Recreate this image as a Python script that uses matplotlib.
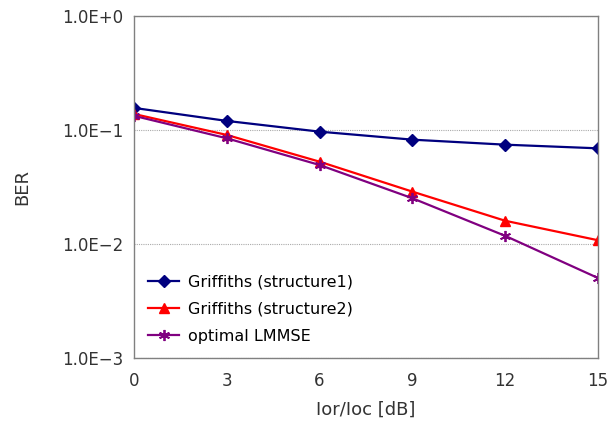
import matplotlib
matplotlib.use('Agg')
import matplotlib.pyplot as plt
from matplotlib.ticker import FixedLocator, NullLocator

snr_db = [0, 3, 6, 9, 12, 15]
ber_griffiths1 = [0.156, 0.120, 0.0966, 0.0822, 0.0743, 0.069]
ber_griffiths2 = [0.138, 0.0904, 0.0527, 0.0288, 0.0160, 0.0108]
ber_lmmse = [0.133, 0.0845, 0.0493, 0.0252, 0.0118, 0.00504]
ytick_vals = [1e-3, 1e-2, 1e-1, 1e0]
ytick_labels = ['1.0E\u22123', '1.0E\u22122', '1.0E\u22121', '1.0E+0']

plt.rcParams['font.family'] = ['DejaVu Sans']

fig = plt.figure(figsize=(6.10, 4.40), dpi=100)
ax = fig.add_axes([0.2197, 0.186, 0.7606, 0.778])

ax.plot(snr_db, ber_griffiths1, color='#00007f', lw=1.6, marker='D', ms=6,
        label='Griffiths (structure1)')
ax.plot(snr_db, ber_griffiths2, color='#ff0000', lw=1.6, marker='^', ms=7.5,
        label='Griffiths (structure2)')
ax.plot(snr_db, ber_lmmse, color='#800080', lw=1.6, marker=(6, 2, 0), ms=8,
        mew=1.3, label='optimal LMMSE')

ax.set_yscale('log')
ax.set_ylim(1e-3, 1)
ax.set_xlim(0, 15)
ax.set_xticks(snr_db)
ax.yaxis.set_major_locator(FixedLocator(ytick_vals))
ax.yaxis.set_minor_locator(NullLocator())
ax.set_yticklabels(ytick_labels)
ax.tick_params(axis='both', length=0, labelsize=12, colors='#333333', pad=10)
ax.tick_params(axis='y', pad=8)

ax.grid(True, axis='y', color='#aaaaaa', ls=(0, (1, 1)), lw=0.8)
for side in ax.spines.values():
    side.set_color('#808080')
    side.set_linewidth(1.0)

ax.set_xlabel('Ior/Ioc [dB]', fontsize=13, color='#333333', labelpad=8)
ax.set_ylabel('BER', fontsize=13, color='#333333', labelpad=22)

ax.legend(loc='lower left', bbox_to_anchor=(0.0, 0.0), frameon=False,
          fontsize=11.5, handlelength=1.9, handletextpad=0.6,
          labelspacing=0.75, borderaxespad=0.5)

fig.savefig('out.png', dpi=100)
